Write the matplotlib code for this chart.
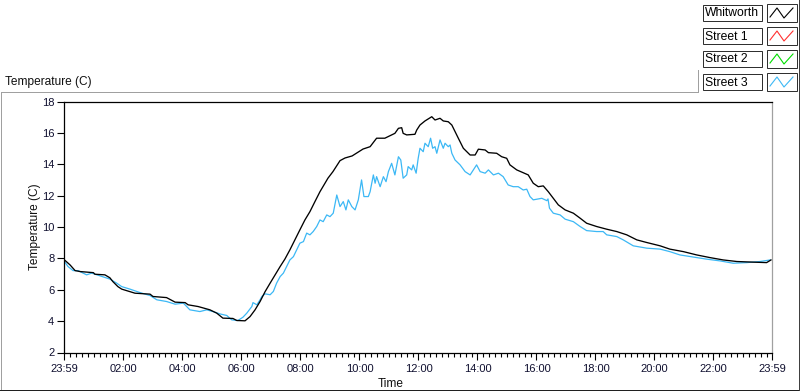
import matplotlib
matplotlib.use('Agg')
import matplotlib.pyplot as plt
import numpy as np
from matplotlib.patches import Rectangle
from matplotlib.lines import Line2D

plt.rcParams['font.family'] = ['Liberation Sans', 'DejaVu Sans']

# ---------------- data (hours since midnight, temperature C) ----------------
whitworth_t = [0.00, 0.19, 0.36, 0.53, 0.98, 1.03, 1.37, 1.54, 1.64, 1.81, 1.94, 2.39, 2.90, 3.00,
               3.46, 3.75, 4.09, 4.19, 4.53, 4.93, 5.16, 5.37, 5.71, 5.84, 6.12, 6.29, 6.46, 6.63,
               6.80, 6.97, 7.14, 7.31, 7.47, 7.64, 7.81, 7.98, 8.15, 8.32, 8.49, 8.66, 8.83, 8.93,
               9.10, 9.34, 9.51, 9.75, 10.12, 10.36, 10.58, 10.86, 11.09, 11.20, 11.32, 11.43, 11.48,
               11.60, 11.88, 11.94, 12.05, 12.22, 12.45, 12.56, 12.73, 12.84, 13.01, 13.13, 13.24,
               13.35, 13.52, 13.75, 13.92, 14.03, 14.26, 14.37, 14.65, 14.82, 14.99, 15.10, 15.33,
               15.55, 15.72, 15.89, 16.06, 16.23, 16.40, 16.57, 16.74, 16.97, 17.25, 17.48, 17.70,
               18.04, 18.38, 18.72, 19.06, 19.40, 19.74, 20.19, 20.52, 20.98, 21.43, 21.88, 22.33,
               22.79, 23.35, 23.80, 23.95]
whitworth_v = [7.90, 7.58, 7.22, 7.16, 7.09, 6.99, 6.95, 6.76, 6.52, 6.20, 6.04, 5.78, 5.72, 5.57,
               5.50, 5.21, 5.18, 5.04, 4.93, 4.72, 4.51, 4.19, 4.17, 4.04, 4.02, 4.29, 4.72, 5.25,
               5.88, 6.42, 6.95, 7.48, 7.95, 8.54, 9.18, 9.82, 10.45, 10.98, 11.62, 12.25, 12.79, 13.11,
               13.53, 14.23, 14.40, 14.53, 14.97, 15.12, 15.66, 15.66, 15.87, 15.97, 16.29, 16.33, 15.97,
               15.87, 15.91, 16.18, 16.50, 16.76, 17.03, 16.82, 16.93, 16.76, 16.71, 16.50, 16.08,
               15.66, 15.02, 14.59, 14.59, 14.96, 14.91, 14.74, 14.70, 14.48, 14.38, 13.96, 13.64,
               13.46, 13.32, 12.79, 12.57, 12.62, 12.25, 11.83, 11.41, 11.09, 10.88, 10.56, 10.24,
               10.03, 9.86, 9.71, 9.50, 9.18, 9.01, 8.80, 8.59, 8.43, 8.22, 8.05, 7.90,
               7.80, 7.76, 7.73, 7.90]

street1_t = []
street1_v = []
street2_t = []
street2_v = []

street3_t = [0.00, 0.12, 0.29, 0.46, 0.75, 0.92, 1.20, 1.54, 1.77, 1.94, 2.22, 2.56, 2.90, 3.13,
             3.46, 3.75, 4.03, 4.25, 4.59, 4.82, 5.03, 5.27, 5.50, 5.67, 5.88, 6.05, 6.18, 6.22,
             6.35, 6.39, 6.52, 6.63, 6.69, 6.80, 6.97, 7.08, 7.19, 7.31, 7.42, 7.53, 7.64, 7.76,
             7.87, 7.98, 8.10, 8.21, 8.32, 8.43, 8.55, 8.66, 8.77, 8.89, 9.00, 9.11, 9.23, 9.34,
             9.45, 9.54, 9.62, 9.74, 9.85, 9.96, 10.07, 10.15, 10.30, 10.36, 10.47, 10.53, 10.58,
             10.70, 10.81, 10.90, 10.98, 11.09, 11.20, 11.32, 11.40, 11.48, 11.60, 11.65, 11.77,
             11.82, 11.92, 11.99, 12.05, 12.16, 12.22, 12.33, 12.41, 12.48, 12.56, 12.62, 12.73,
             12.84, 12.90, 13.01, 13.07, 13.13, 13.24, 13.41, 13.58, 13.75, 13.86, 13.97, 14.09,
             14.26, 14.37, 14.54, 14.71, 14.87, 15.04, 15.21, 15.38, 15.55, 15.67, 15.78, 15.89,
             16.18, 16.35, 16.39, 16.44, 16.57, 16.80, 16.97, 17.25, 17.48, 17.70, 18.04, 18.26,
             18.38, 18.72, 18.94, 19.28, 19.74, 20.19, 20.52, 20.86, 21.32, 21.77, 22.22, 22.67,
             23.13, 23.58, 23.92]
street3_v = [7.80, 7.48, 7.22, 7.22, 6.95, 7.06, 6.89, 6.68, 6.42, 6.20, 6.04, 5.82, 5.63, 5.36,
             5.25, 5.08, 5.15, 4.72, 4.61, 4.72, 4.61, 4.46, 4.36, 4.08, 4.04, 4.25, 4.51, 4.61,
             4.93, 5.18, 5.04, 5.36, 5.57, 5.74, 5.68, 5.89, 6.42, 6.84, 7.06, 7.48, 7.90, 8.11,
             8.54, 8.97, 9.07, 9.61, 9.50, 9.71, 10.03, 10.45, 10.34, 10.77, 10.66, 10.88, 12.04, 11.30,
             11.62, 11.09, 11.73, 11.30, 11.09, 11.73, 13.00, 11.94, 11.94, 12.25, 13.32, 12.79, 13.21,
             12.57, 13.21, 12.89, 13.53, 14.06, 13.32, 14.48, 14.27, 13.11, 13.32, 13.85, 13.64,
             13.96, 13.43, 14.38, 15.02, 14.80, 15.34, 15.12, 15.66, 15.02, 15.12, 14.70, 15.55,
             15.02, 15.34, 15.12, 15.23, 14.70, 14.27, 13.96, 13.53, 13.32, 13.64, 13.96, 13.53,
             13.43, 13.64, 13.32, 13.43, 13.21, 12.68, 12.57, 12.57, 12.36, 12.41, 11.94, 11.73,
             11.83, 11.68, 11.79, 11.20, 10.88, 10.77, 10.50, 10.34, 10.03, 9.77, 9.71, 9.71,
             9.50, 9.39, 9.18, 8.80, 8.65, 8.59, 8.43, 8.22, 8.08, 7.95, 7.84, 7.69,
             7.73, 7.80, 7.90]

series_names = ["Whitworth", "Street 1", "Street 2", "Street 3"]
series_colors = ["#000000", "#ff3030", "#00dd00", "#3cb8f5"]

x_tick_pos = [-1/60, 2, 4, 6, 8, 10, 12, 14, 16, 18, 20, 22, 1439/60]
x_tick_labels = ["23:59", "02:00", "04:00", "06:00", "08:00", "10:00", "12:00",
                 "14:00", "16:00", "18:00", "20:00", "22:00", "23:59"]
y_ticks = [2, 4, 6, 8, 10, 12, 14, 16, 18]

# ---------------- figure ----------------
W, H = 800, 392
fig = plt.figure(figsize=(W/100, H/100), dpi=100)
fig.patch.set_facecolor('white')

def fx(x):
    return x / W

def fy(y):
    return 1 - y / H

ax = fig.add_axes([fx(64), fy(352.5), 708/W, 251/H])

ax.plot(street1_t, street1_v, color=series_colors[1], lw=0.9)
ax.plot(street2_t, street2_v, color=series_colors[2], lw=0.9)
ax.plot(street3_t, street3_v, color=series_colors[3], lw=0.9)
ax.plot(whitworth_t, whitworth_v, color=series_colors[0], lw=0.95)

ax.set_xlim(-1/60, 1439/60)
ax.set_ylim(2, 18)
ax.set_xticks(x_tick_pos)
ax.set_xticklabels(x_tick_labels)
minor = [m for m in np.arange(0.2, 24, 0.2) if abs(m/2 - round(m/2)) > 1e-6]
ax.set_xticks(minor, minor=True)
ax.set_yticks(y_ticks)
ax.tick_params(axis='both', which='major', direction='out', length=5, width=0.8,
               labelsize=8.0, labelcolor='#101030', color='black', pad=2)
ax.tick_params(axis='x', which='major', pad=3)
ax.tick_params(axis='x', which='minor', direction='out', length=3, width=0.8, color='black')
for s in ['left', 'bottom', 'top']:
    ax.spines[s].set_color('black')
    ax.spines[s].set_linewidth(0.9)
ax.spines['right'].set_color('#a0a0a0')
ax.spines['right'].set_linewidth(0.9)

ax.set_xlabel("Time", fontsize=8.6, color='#101010')
ax.set_ylabel("Temperature (C)", fontsize=8.6, color='#101010')
ax.xaxis.set_label_coords((391 - 64) / 708, (352.5 - 384) / 251)
ax.yaxis.set_label_coords((35 - 64) / 708, 0.5)
ax.xaxis.label.set_va('center')
ax.yaxis.label.set_va('center')

# panel title
fig.text(fx(5), fy(82), "Temperature (C)", fontsize=8.6, color='#101010', va='center', ha='left')

# panel frame
px = 0.72
fig.add_artist(Line2D([fx(1), fx(698)], [fy(92), fy(92)], color='#a0a0a0', lw=px))
fig.add_artist(Line2D([fx(698), fx(698)], [fy(70), fy(92)], color='#a0a0a0', lw=px))
fig.add_artist(Line2D([fx(1), fx(1)], [fy(92), fy(390)], color='#a0a0a0', lw=px))
fig.add_artist(Line2D([fx(0), fx(800)], [fy(390), fy(390)], color='#202020', lw=px))
fig.add_artist(Line2D([fx(799), fx(799)], [fy(0), fy(390)], color='#404040', lw=px))

# legend
for i, (name, col) in enumerate(zip(series_names, series_colors)):
    top = 5 + 23 * i
    fig.add_artist(Rectangle((fx(703), fy(top + 16)), 59/W, 16/H, facecolor='white',
                             edgecolor='#303030', lw=px))
    fig.text(fx(705), fy(top + 8.5), name, fontsize=8.7, color='black', va='center', ha='left')
    itop = top - 1
    fig.add_artist(Rectangle((fx(767), fy(itop + 18)), 30/W, 18/H, facecolor='white',
                             edgecolor='#303030', lw=px))
    zx = [770, 777, 784, 793]
    zy = [itop + 13, itop + 4, itop + 14, itop + 4]
    fig.add_artist(Line2D([fx(v) for v in zx], [fy(v) for v in zy], color=col, lw=0.8))

fig.savefig("out.png", dpi=100)
